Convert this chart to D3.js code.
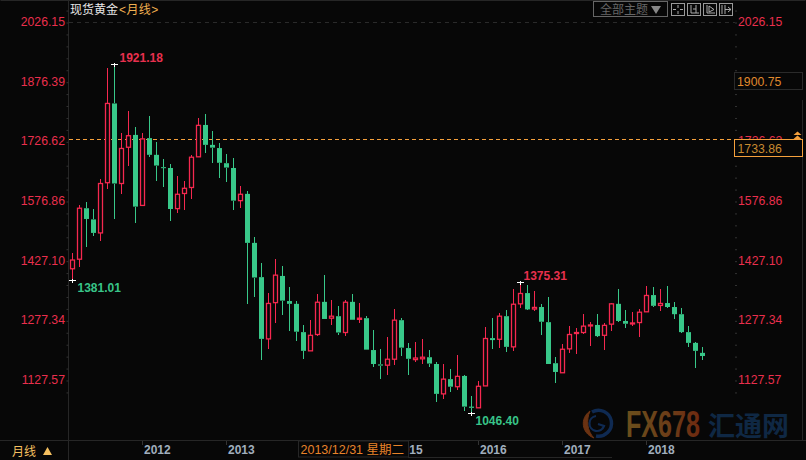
<!DOCTYPE html>
<html><head><meta charset="utf-8">
<script src="https://cdn.jsdelivr.net/npm/d3@7/dist/d3.min.js"></script>
<style>html,body{margin:0;padding:0;background:#070707;overflow:hidden}svg{display:block;font-family:"Liberation Sans",Arial,"Noto Sans CJK SC",sans-serif}</style>
</head><body><svg id="c" width="806" height="460"></svg>
<script>
const priceTicks=["2026.15","1876.39","1726.62","1576.86","1427.10","1277.34","1127.57"];
const yearLabels=["2012","2013","2014","2015","2016","2017","2018"];
const yearIndex=[10,22,34,46,58,70,82];
const opens=[1408,1432,1560,1532,1498,1624,1823,1622,1713,1744,1567,1736,1694,1663,1661,1559,1597,1612,1689,1769,1719,1711,1673,1661,1579,1596,1473,1387,1232,1323,1390,1327,1320,1249,1202,1243,1325,1284,1289,1248,1325,1281,1284,1204,1168,1166,1181,1279,1209,1180,1182,1186,1169,1094,1131,1112,1139,1062,1059,1114,1234,1231,1289,1212,1320,1347,1307,1312,1274,1171,1147,1207,1246,1248,1265,1267,1241,1269,1320,1277,1270,1273,1300,1342,1316,1322,1312,1294,1249,1222,1197];
const highs=[1447,1568,1576,1558,1633,1911,1921.18,1750,1803,1764,1748,1791,1725,1684,1671,1641,1628,1693,1786,1796,1754,1723,1696,1686,1616,1603,1488,1422,1347,1432,1415,1362,1327,1267,1279,1345,1392,1330,1314,1330,1345,1322,1289,1254,1207,1237,1306,1284,1222,1224,1232,1204,1174,1169,1156,1192,1141,1089,1126,1262,1284,1297,1304,1357,1375.31,1367,1352,1319,1337,1186,1219,1264,1259,1294,1274,1294,1271,1323,1357,1304,1299,1306,1365,1362,1357,1365,1325,1309,1264,1224,1212];
const lows=[1381.01,1413,1463,1490,1478,1609,1534,1596,1667,1524,1565,1689,1629,1614,1529,1547,1555,1584,1688,1699,1674,1637,1627,1555,1561,1320,1338,1180,1207,1273,1293,1253,1227,1182,1202,1240,1282,1268,1243,1240,1279,1273,1205,1162,1132,1142,1167,1190,1141,1175,1170,1162,1074,1082,1099,1104,1052,1046.40,1059,1114,1207,1209,1200,1202,1310,1304,1303,1243,1169,1122,1147,1197,1195,1245,1214,1237,1205,1253,1274,1259,1265,1237,1300,1313,1303,1309,1282,1246,1212,1159,1179];
const closes=[1430,1560,1533,1498,1622,1823,1622,1710,1742,1564,1734,1694,1667,1661,1558,1595,1610,1688,1768,1719,1712,1674,1662,1579,1595,1473,1386,1232,1321,1392,1328,1320,1250,1202,1241,1324,1282,1289,1248,1324,1280,1284,1205,1169,1165,1181,1279,1210,1182,1184,1186,1170,1094,1131,1112,1138,1062,1059,1113,1233,1229,1289,1212,1319,1346,1306,1311,1275,1169,1149,1206,1243,1248,1264,1267,1239,1266,1320,1277,1270,1272,1299,1341,1315,1321,1312,1294,1249,1222,1202,1189];
const markers=[{i:6,price:"1921.18",v:1921.18,c:"#e8304e",dx:5,dy:-3},{i:0,price:"1381.01",v:1381.01,c:"#38c489",dx:5,dy:11},{i:64,price:"1375.31",v:1375.31,c:"#e8304e",dx:3,dy:-3},{i:57,price:"1046.40",v:1046.40,c:"#38c489",dx:4,dy:11}];
const lastHigh=1900.75,lastPrice=1733.86,dateText="2013/12/31 星期二";
const RED="#f5284f",GREEN="#38c889",ORANGE="#f5a03c",BG="#070707";

const svg=d3.select("#c");
svg.append("rect").attr("width",806).attr("height",460).attr("fill",BG);
const y=d3.scaleLinear().domain([2026.15,1127.57]).range([22.5,380.5]);
const x=d3.scaleLinear().domain([0,90]).range([72,702]);

// frame
const frame=svg.append("g").attr("stroke","#262626").attr("fill","none");
frame.append("path").attr("d","M0.5 0.5H805.5");
frame.append("path").attr("d","M68.5 0V460");
frame.append("path").attr("d","M0 440.5H806");
frame.append("path").attr("d","M802.5 100V440");
frame.append("path").attr("d","M408 457.5H612");
svg.append("line").attr("x1",69).attr("x2",735).attr("y1",22.5).attr("y2",22.5).attr("stroke","#2a2a2a").attr("stroke-dasharray","4,4");

// axes
function priceAxis(px){
  const minor=d3.range(-1,32).map(k=>2026.15-k*29.952);
  const g=svg.append("g").attr("transform",`translate(${px},0)`);
  g.call(d3.axisLeft(y).tickValues(minor.filter(v=>y(v)>3&&y(v)<438)).tickSize(2).tickFormat(""));
  g.select(".domain").remove();
  g.selectAll("line").attr("stroke","#333");
}
priceAxis(68.5);priceAxis(737);
const leftLabels=svg.append("g").attr("font-size",12.25).attr("fill","#ea2f4d").attr("text-anchor","end");
leftLabels.selectAll("text").data(priceTicks).join("text").attr("x",65).attr("y",d=>y(+d)+3.5).text(d=>d);
const rightLabels=svg.append("g").attr("font-size",12.25).attr("fill","#ea2f4d");
rightLabels.selectAll("text").data(priceTicks).join("text").attr("x",738).attr("y",d=>y(+d)+3.5).text(d=>d);

// last price dashed
const ly=Math.round(y(lastPrice))+0.5;
svg.append("line").attr("x1",69).attr("x2",735).attr("y1",ly).attr("y2",ly).attr("stroke",ORANGE).attr("stroke-width",1).attr("stroke-dasharray","4,3");

// candles
const idx=d3.range(opens.length);
const g=svg.append("g");
const up=i=>closes[i]>=opens[i];
const col=i=>up(i)?RED:GREEN;
const cx=i=>x(i)+0.5;
g.selectAll(".wick").data(idx).join("path").attr("stroke",col).attr("stroke-width",1).attr("fill","none").attr("shape-rendering","crispEdges")
 .attr("d",i=>{
   const t=y(Math.max(opens[i],closes[i])),b=y(Math.min(opens[i],closes[i]));
   return `M${cx(i)} ${y(highs[i])}V${t}M${cx(i)} ${b}V${y(lows[i])}`;
 });
g.selectAll(".body").data(idx).join("rect")
 .attr("x",i=>cx(i)-(up(i)?2:2.5)).attr("width",i=>up(i)?4:5)
 .attr("y",i=>y(Math.max(opens[i],closes[i])))
 .attr("height",i=>Math.max(1,y(Math.min(opens[i],closes[i]))-y(Math.max(opens[i],closes[i]))))
 .attr("fill",i=>up(i)?BG:GREEN).attr("stroke",i=>up(i)?RED:"none").attr("stroke-width",1.3);

// hi/lo markers
const mk=svg.append("g");
markers.forEach(m=>{
  const yy=Math.round(y(m.v))+0.5,xx=Math.round(x(m.i))+0.5;
  mk.append("path").attr("d",`M${xx-3.5} ${yy}H${xx+3.5}M${xx} ${yy-2}V${yy+2}`).attr("stroke","#fff").attr("fill","none").attr("shape-rendering","crispEdges");
  mk.append("text").attr("x",xx+m.dx).attr("y",yy+m.dy).attr("fill",m.c).attr("font-size",12).attr("font-weight","bold").text(m.price);
});

// title
const title=svg.append("text").attr("x",70).attr("y",14).attr("font-size",12);
title.append("tspan").attr("fill","#e8e8e8").text("现货黄金");
title.append("tspan").attr("fill","#f0b050").attr("dx",1).attr("letter-spacing",0.4).text("<月线>");

// top toolbar
svg.append("rect").attr("x",593.5).attr("y",1.5).attr("width",74).attr("height",15).attr("fill","none").attr("stroke","#666");
svg.append("text").attr("x",600).attr("y",14).attr("font-size",12).attr("fill","#666").text("全部主题");
svg.append("path").attr("d","M651 6H661L656 14Z").attr("fill","#888");
[671,687,703,719].forEach((bx,k)=>{
  svg.append("rect").attr("x",bx+.5).attr("y",3.5).attr("width",13).attr("height",12).attr("fill","none").attr("stroke","#999");
  const d=["M"+(bx+7)+" 5V8M"+(bx+7)+" 11V14M"+(bx+2)+" 9.5H"+(bx+5)+"M"+(bx+9)+" 9.5H"+(bx+12),
           "M"+(bx+4)+" 5V13H"+(bx+12)+"M"+(bx+9)+" 5V13M"+(bx+6)+" 9H"+(bx+9),
           "M"+(bx+4)+" 5V13H"+(bx+12)+"M"+(bx+6)+" 6L"+(bx+11)+" 9.5L"+(bx+6)+" 12Z",
           "M"+(bx+3)+" 5V14M"+(bx+6)+" 5V14M"+(bx+6)+" 9.5H"+(bx+12)+"M"+(bx+9)+" 7L"+(bx+12)+" 9.5L"+(bx+9)+" 12"][k];
  svg.append("path").attr("d",d).attr("fill","none").attr("stroke","#aaa");
});

// right value boxes
svg.append("rect").attr("x",734.5).attr("y",72.5).attr("width",68).attr("height",17).attr("fill",BG).attr("stroke","#2a2a2a");
svg.append("text").attr("x",737).attr("y",86).attr("font-size",12.25).attr("fill","#e08a2e").text(lastHigh.toFixed(2));
svg.append("rect").attr("x",734.5).attr("y",139.5).attr("width",68).attr("height",17).attr("fill",BG).attr("stroke",ORANGE);
svg.append("text").attr("x",737.5).attr("y",152.5).attr("font-size",12.25).attr("fill","#c88a30").text(lastPrice.toFixed(2));
svg.append("path").attr("d","M793.5 135L797.5 131.5L801.5 135ZM793.5 139L797.5 135.5L801.5 139Z").attr("fill",ORANGE);

// watermark
const defs=svg.append("defs");
const lg=defs.append("linearGradient").attr("id","fxg");
lg.append("stop").attr("offset","0").attr("stop-color","#6b4f1c");
lg.append("stop").attr("offset","0.6").attr("stop-color","#6b3c18");
lg.append("stop").attr("offset","1").attr("stop-color","#6e2a10");
const wm=svg.append("g");
wm.append("path").attr("d","M592 412A13 13 0 1 1 596 436").attr("fill","none").attr("stroke","#0f2a52").attr("stroke-width",3.5);
wm.append("path").attr("d","M596 416A7.5 7.5 0 1 0 604 426L598 424").attr("fill","none").attr("stroke","#0f2a52").attr("stroke-width",2.2);
wm.append("path").attr("d","M590 411C580 418 581 433 594 438C587 431 586 420 590 411Z").attr("fill","#6a3212").attr("stroke","#6a3212");
wm.append("text").attr("x",626).attr("y",437).attr("font-size",36).attr("font-weight","bold").attr("fill","url(#fxg)").attr("textLength",74).attr("lengthAdjust","spacingAndGlyphs").text("FX678");
wm.append("text").attr("x",708).attr("y",436).attr("font-size",27).attr("font-weight","bold").attr("fill","#0f2844").attr("textLength",81).attr("lengthAdjust","spacingAndGlyphs").text("汇通网");

// bottom bar
svg.append("text").attr("x",12).attr("y",456).attr("font-size",12).attr("fill","#f5c060").text("月线");
svg.append("path").attr("d","M43 455L47.5 447L52 455Z").attr("fill","#f5c060");
const xb=svg.append("g").attr("transform","translate(0,440)");
xb.selectAll("line").data(yearIndex).join("line").attr("x1",i=>x(i)+0.5).attr("x2",i=>x(i)+0.5).attr("y1",1).attr("y2",5).attr("stroke","#333");
xb.selectAll("text").data(yearIndex).join("text").attr("x",i=>x(i)+2).attr("y",14).attr("font-size",12).attr("font-weight","bold").attr("fill","#a0aebd").text((d,k)=>yearLabels[k]);
svg.append("rect").attr("x",298.5).attr("y",441).attr("width",110).attr("height",16).attr("fill",BG).attr("stroke","#262626");
svg.append("text").attr("x",300.5).attr("y",454).attr("font-size",12.5).attr("fill","#e8832a").text(dateText);
</script></body></html>
